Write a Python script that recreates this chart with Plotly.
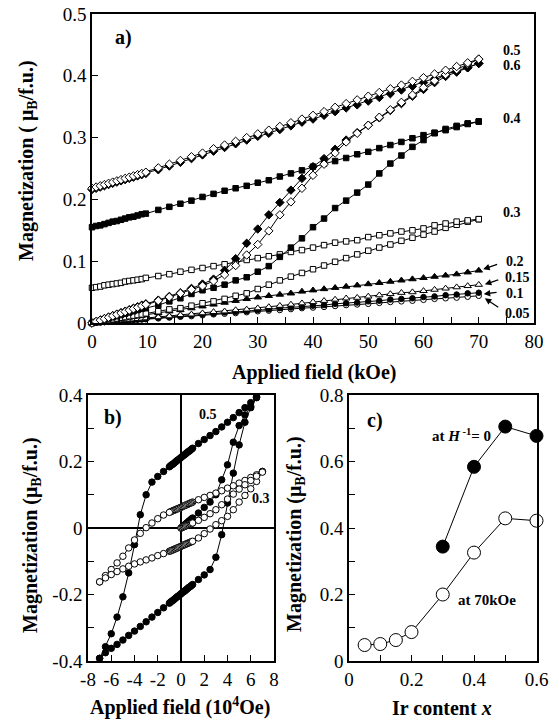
import plotly.graph_objects as go

# ---------------- Panel a data (field in kOe, M in muB/f.u.) ----------------
H_a = [0, 0.75, 1.5, 2.25, 3, 3.75, 4.5, 5.25, 6, 6.75, 7.5, 8.25, 9, 9.75,
       12, 14, 16, 18, 20, 22, 24, 26, 28, 30, 32, 34, 36, 38, 40, 42, 44, 46, 48, 50,
       52, 54, 56, 58, 60, 62, 64, 66, 68, 70]

m05_down = [0.218, 0.220, 0.222, 0.224, 0.226, 0.228, 0.230, 0.232, 0.234, 0.236, 0.238, 0.240, 0.242, 0.244,
            0.251, 0.257, 0.263, 0.269, 0.275, 0.282, 0.288, 0.294, 0.300, 0.306, 0.312, 0.318, 0.324, 0.330,
            0.336, 0.342, 0.349, 0.355, 0.361, 0.367, 0.373, 0.379, 0.385, 0.391, 0.397, 0.403, 0.409, 0.415,
            0.421, 0.427]
m05_up = [0, 0.0023, 0.0046, 0.0069, 0.0092, 0.0115, 0.0138, 0.0161, 0.0184, 0.0207, 0.023, 0.0253, 0.0276, 0.030,
          0.036, 0.042, 0.048, 0.054, 0.060, 0.068, 0.078, 0.093, 0.110, 0.127, 0.149, 0.175, 0.196, 0.218,
          0.239, 0.257, 0.275, 0.293, 0.307, 0.320, 0.333, 0.345, 0.357, 0.369, 0.381, 0.392, 0.402, 0.410,
          0.419, 0.427]
m06_down = [0.216, 0.218, 0.220, 0.222, 0.224, 0.226, 0.228, 0.230, 0.232, 0.234, 0.236, 0.238, 0.240, 0.242,
            0.248, 0.254, 0.260, 0.266, 0.272, 0.278, 0.284, 0.290, 0.296, 0.302, 0.307, 0.313, 0.319, 0.325,
            0.330, 0.336, 0.342, 0.348, 0.353, 0.359, 0.365, 0.371, 0.377, 0.383, 0.389, 0.395, 0.401, 0.407,
            0.413, 0.420]
m06_up = [0, 0.0024, 0.0048, 0.0072, 0.0096, 0.012, 0.0144, 0.0168, 0.0192, 0.0216, 0.024, 0.0264, 0.0288, 0.031,
          0.037, 0.043, 0.049, 0.056, 0.063, 0.071, 0.085, 0.104, 0.129, 0.152, 0.175, 0.195, 0.215, 0.234,
          0.253, 0.266, 0.281, 0.296, 0.308, 0.320, 0.332, 0.344, 0.355, 0.367, 0.378, 0.389, 0.399, 0.406,
          0.413, 0.420]
m04_down = [0.155, 0.157, 0.158, 0.160, 0.162, 0.164, 0.165, 0.167, 0.169, 0.171, 0.172, 0.174, 0.176, 0.177,
            0.183, 0.188, 0.193, 0.198, 0.204, 0.209, 0.214, 0.218, 0.222, 0.227, 0.231, 0.237, 0.242, 0.247,
            0.253, 0.258, 0.262, 0.267, 0.273, 0.277, 0.283, 0.288, 0.293, 0.299, 0.304, 0.308, 0.312, 0.317,
            0.322, 0.326]
m04_up = [0, 0.0019, 0.0038, 0.0056, 0.0075, 0.0094, 0.011, 0.013, 0.015, 0.017, 0.019, 0.021, 0.023, 0.024,
          0.029, 0.035, 0.040, 0.047, 0.053, 0.057, 0.062, 0.069, 0.074, 0.083, 0.092, 0.107, 0.122, 0.137,
          0.155, 0.169, 0.186, 0.198, 0.211, 0.224, 0.242, 0.258, 0.271, 0.285, 0.296, 0.307, 0.314, 0.319,
          0.323, 0.326]
m03_down = [0.057, 0.058, 0.059, 0.061, 0.062, 0.063, 0.064, 0.065, 0.067, 0.068, 0.069, 0.070, 0.071, 0.073,
            0.076, 0.079, 0.083, 0.086, 0.089, 0.092, 0.095, 0.099, 0.102, 0.105, 0.108, 0.111, 0.115, 0.118,
            0.122, 0.126, 0.130, 0.132, 0.134, 0.139, 0.142, 0.145, 0.148, 0.150, 0.153, 0.158, 0.161, 0.164,
            0.166, 0.168]
m03_up = [0, 0.0012, 0.0024, 0.0036, 0.0048, 0.006, 0.0072, 0.0084, 0.0096, 0.011, 0.012, 0.013, 0.014, 0.0156,
          0.019, 0.022, 0.024, 0.028, 0.032, 0.035, 0.039, 0.044, 0.048, 0.055, 0.062, 0.069, 0.075, 0.081,
          0.087, 0.093, 0.099, 0.105, 0.111, 0.117, 0.122, 0.127, 0.133, 0.138, 0.143, 0.148, 0.154, 0.159,
          0.164, 0.168]
m02 = [0, 0.001, 0.002, 0.003, 0.004, 0.005, 0.006, 0.007, 0.008, 0.009, 0.010, 0.011, 0.012, 0.013,
       0.016, 0.019, 0.021, 0.024, 0.027, 0.030, 0.033, 0.036, 0.039, 0.0415, 0.044, 0.046, 0.048, 0.051,
       0.053, 0.055, 0.057, 0.059, 0.061, 0.063, 0.065, 0.067, 0.069, 0.071, 0.073, 0.075, 0.077, 0.079,
       0.082, 0.085]
m015 = [0, 0.0006, 0.0012, 0.0018, 0.0024, 0.003, 0.0036, 0.0042, 0.0048, 0.0054, 0.006, 0.0066, 0.0072, 0.0078,
        0.0096, 0.011, 0.013, 0.014, 0.016, 0.018, 0.019, 0.021, 0.022, 0.024, 0.026, 0.028, 0.030, 0.032,
        0.034, 0.036, 0.038, 0.040, 0.041, 0.043, 0.045, 0.047, 0.049, 0.050, 0.052, 0.054, 0.056, 0.058,
        0.060, 0.062]
m01 = [0, 0.0005, 0.001, 0.0015, 0.002, 0.0026, 0.0031, 0.0036, 0.0041, 0.0046, 0.0052, 0.0057, 0.0062, 0.0067,
       0.0083, 0.0097, 0.011, 0.0125, 0.014, 0.015, 0.017, 0.018, 0.019, 0.021, 0.022, 0.024, 0.025, 0.026,
       0.028, 0.029, 0.031, 0.032, 0.033, 0.035, 0.036, 0.038, 0.039, 0.040, 0.042, 0.043, 0.045, 0.046,
       0.048, 0.049]
m005 = [0, 0.0005, 0.0009, 0.0014, 0.0019, 0.0023, 0.0028, 0.0033, 0.0038, 0.0042, 0.0047, 0.0052, 0.0056, 0.0061,
        0.0075, 0.0088, 0.010, 0.011, 0.0125, 0.014, 0.015, 0.016, 0.0175, 0.019, 0.020, 0.021, 0.0225, 0.024,
        0.025, 0.026, 0.0275, 0.029, 0.030, 0.031, 0.0325, 0.034, 0.035, 0.036, 0.0375, 0.039, 0.040, 0.041,
        0.0425, 0.044]

labels_a = ["0.5", "0.6", "0.4", "0.3", "0.2", "0.15", "0.1", "0.05"]
labels_a_x = [76, 76, 76, 76, 76.5, 77, 76.5, 77]
labels_a_y = [0.441, 0.417, 0.331, 0.178, 0.099, 0.074, 0.048, 0.016]

# ---------------- Panel b data (field in 10^4 Oe) ----------------
H_loop = [7, 6.5, 6, 5.5, 5, 4.5, 4, 3.5, 3, 2.5, 2, 1.5, 1,
          0.9, 0.8, 0.7, 0.6, 0.5, 0.4, 0.3, 0.2, 0.1, 0, -0.1, -0.2, -0.3, -0.4, -0.5, -0.6, -0.7, -0.8, -0.9,
          -1, -1.5, -2, -2.5, -3, -3.5, -4, -4.5, -5, -5.5, -6, -6.5, -7]
H_loop_up = H_loop[::-1]
H_virgin = [0, 0.1, 0.2, 0.3, 0.4, 0.5, 0.6, 0.7, 0.8, 0.9, 1.0, 1.5, 2, 2.5, 3, 3.5, 4, 4.5, 5, 5.5, 6, 6.5, 7]

b05_down = [0.415, 0.395, 0.377, 0.362, 0.347, 0.332, 0.318, 0.304, 0.290, 0.278, 0.266, 0.254, 0.240,
            0.237, 0.234, 0.231, 0.229, 0.226, 0.223, 0.220, 0.218, 0.215, 0.212, 0.209, 0.206, 0.204, 0.201,
            0.198, 0.195, 0.192, 0.190, 0.187,
            0.184, 0.170, 0.155, 0.138, 0.100, 0.040, -0.050, -0.135, -0.207, -0.268, -0.318, -0.357, -0.392]
b05_up = [-0.392, -0.375, -0.362, -0.350, -0.337, -0.323, -0.310, -0.296, -0.282, -0.268, -0.254, -0.240, -0.226,
          -0.223, -0.220, -0.218, -0.215, -0.212, -0.209, -0.206, -0.204, -0.201, -0.198, -0.195, -0.192, -0.190,
          -0.187, -0.184, -0.181, -0.178, -0.176, -0.173,
          -0.170, -0.155, -0.141, -0.125, -0.088, -0.020, 0.075, 0.165, 0.250, 0.318, 0.362, 0.393, 0.415]
b05_virgin = [0, 0.003, 0.006, 0.009, 0.012, 0.015, 0.018, 0.021, 0.024, 0.027, 0.030, 0.045, 0.062, 0.078,
              0.100, 0.145, 0.190, 0.258, 0.308, 0.340, 0.366, 0.392, 0.415]
b03_down = [0.170, 0.160, 0.152, 0.143, 0.135, 0.127, 0.120, 0.112, 0.105, 0.098, 0.092, 0.085, 0.078,
            0.076, 0.075, 0.073, 0.072, 0.070, 0.069, 0.067, 0.066, 0.064, 0.062, 0.061, 0.059, 0.058, 0.056,
            0.055, 0.053, 0.052, 0.050, 0.049,
            0.047, 0.039, 0.028, 0.015, 0.001, -0.016, -0.036, -0.060, -0.085, -0.105, -0.125, -0.143, -0.162]
b03_up = [-0.162, -0.150, -0.140, -0.131, -0.123, -0.115, -0.108, -0.102, -0.096, -0.090, -0.083, -0.077, -0.070,
          -0.069, -0.067, -0.066, -0.064, -0.063, -0.061, -0.060, -0.058, -0.057, -0.055, -0.053, -0.052, -0.050,
          -0.049, -0.047, -0.046, -0.044, -0.043, -0.041,
          -0.040, -0.030, -0.017, -0.003, 0.010, 0.022, 0.035, 0.055, 0.078, 0.098, 0.118, 0.140, 0.170]
b03_virgin = [0, 0.0015, 0.003, 0.0045, 0.006, 0.0075, 0.009, 0.0105, 0.012, 0.0135, 0.015, 0.023, 0.032, 0.043,
              0.055, 0.070, 0.087, 0.102, 0.117, 0.130, 0.143, 0.156, 0.168]

# ---------------- Panel c data ----------------
x_sat = [0.3, 0.4, 0.5, 0.6]
m_sat = [0.344, 0.584, 0.705, 0.677]
x_70 = [0.05, 0.1, 0.15, 0.2, 0.3, 0.4, 0.5, 0.6]
m_70 = [0.048, 0.051, 0.063, 0.087, 0.200, 0.326, 0.429, 0.422]

FONT = "Liberation Serif, Times New Roman, Times, serif"
BLK = "black"
OFF = 8                      # page body margin of the browser
W, Hh = 559 - OFF, 724 - OFF

fig = go.Figure()


def add(x, y, symbol, fill, size, xa, ya, clip=True):
    fig.add_trace(go.Scatter(
        x=x, y=y, mode="lines+markers", xaxis=xa, yaxis=ya, cliponaxis=clip,
        line=dict(color=BLK, width=1),
        marker=dict(symbol=symbol, size=size, color=fill, line=dict(color=BLK, width=1)),
        showlegend=False, hoverinfo="skip"))


# panel a
for m, sym, fill, sz in [(m005, "circle", "white", 5.5), (m01, "circle", BLK, 5.5),
                         (m015, "triangle-up", "white", 6.5), (m02, "triangle-up", BLK, 6.5),
                         (m03_up, "square", "white", 5.5), (m03_down, "square", "white", 5.5),
                         (m04_up, "square", BLK, 5.5), (m04_down, "square", BLK, 5.5),
                         (m06_up, "diamond", BLK, 6.5), (m06_down, "diamond", BLK, 6.5),
                         (m05_up, "diamond", "white", 6.5), (m05_down, "diamond", "white", 6.5)]:
    add(H_a, m, sym, fill, sz, "x", "y", clip=False)

# panel b
add(H_loop, b05_down, "circle", BLK, 6.5, "x2", "y2")
add(H_loop_up, b05_up, "circle", BLK, 6.5, "x2", "y2")
add(H_virgin, b05_virgin, "circle", BLK, 6.5, "x2", "y2")
add(H_loop, b03_down, "circle", "white", 6.5, "x2", "y2")
add(H_loop_up, b03_up, "circle", "white", 6.5, "x2", "y2")
add(H_virgin, b03_virgin, "circle", "white", 6.5, "x2", "y2")

# panel c
add(x_sat, m_sat, "circle", BLK, 13, "x3", "y3", clip=False)
add(x_70, m_70, "circle", "white", 13, "x3", "y3", clip=False)

tickfont = dict(family=FONT, size=19, color=BLK)


def ax(domain, rng, anchor, **kw):
    d = dict(domain=domain, range=rng, anchor=anchor, showline=True, linecolor=BLK, linewidth=1.5,
             mirror=True, ticks="inside", ticklen=6, tickwidth=1, tickcolor=BLK, showgrid=False,
             zeroline=False, tickfont=tickfont, fixedrange=True, automargin=False,
             ticklabeloverflow="allow")
    d.update(kw)
    return d


def px(p):
    return (p - OFF) / W


def py(p):
    return 1 - (p - OFF) / Hh


fig.update_layout(
    width=W, height=Hh, autosize=False, margin=dict(l=0, r=0, t=0, b=0, pad=0),
    paper_bgcolor="white", plot_bgcolor="white", showlegend=False,
    xaxis=ax([px(92), px(534)], [0, 80], "y", tickvals=[0, 10, 20, 30, 40, 50, 60, 70, 80],
             minor=dict(dtick=5, ticks="inside", ticklen=6, tickcolor=BLK)),
    yaxis=ax([py(323), py(14)], [0, 0.5], "x", tickvals=[0, 0.1, 0.2, 0.3, 0.4, 0.5],
             ticktext=["0", "0.1", "0.2", "0.3", "0.4", "0.5"]),
    xaxis2=ax([px(88), px(274)], [-8, 8], "y2", tickvals=[-8, -6, -4, -2, 0, 2, 4, 6, 8],
              ticktext=["-8", "-6", "-4", "-2", "0", "2", "4", "6", "8"],
              zeroline=True, zerolinecolor=BLK, zerolinewidth=1.5),
    yaxis2=ax([py(661), py(395)], [-0.4, 0.4], "x2", tickvals=[-0.4, -0.2, 0, 0.2, 0.4],
              ticktext=["-0.4", "-0.2", "0", "0.2", "0.4"],
              minor=dict(dtick=0.1, ticks="inside", ticklen=6, tickcolor=BLK),
              zeroline=True, zerolinecolor=BLK, zerolinewidth=1.5),
    xaxis3=ax([px(349), px(536.5)], [0, 0.6], "y3", tickvals=[0, 0.2, 0.4, 0.6],
              ticktext=["0", "0.2", "0.4", "0.6"],
              minor=dict(dtick=0.1, ticks="inside", ticklen=6, tickcolor=BLK)),
    yaxis3=ax([py(661), py(395)], [0, 0.8], "x3", tickvals=[0, 0.2, 0.4, 0.6, 0.8],
              ticktext=["0", "0.2", "0.4", "0.6", "0.8"],
              minor=dict(dtick=0.1, ticks="inside", ticklen=6, tickcolor=BLK)),
)

ann = []
lab_font = dict(family=FONT, size=14, color=BLK)
for t, xx, yy in zip(labels_a, labels_a_x, labels_a_y):
    ann.append(dict(text="<b>%s</b>" % t, x=xx, y=yy, xref="x", yref="y", showarrow=False,
                    font=lab_font, xanchor="center", yanchor="middle"))
# arrows panel a (head -> tail)
for hx, hy, tx, ty in [(70.8, 0.087, 73.6, 0.0955), (71.1, 0.0626, 73.8, 0.0707),
                       (70.9, 0.047, 73.5, 0.0497), (71.1, 0.040, 73.8, 0.0238)]:
    ann.append(dict(text="", x=hx, y=hy, ax=tx, ay=ty, xref="x", yref="y", axref="x", ayref="y",
                    showarrow=True, arrowhead=2, arrowsize=1, arrowwidth=1.3, arrowcolor=BLK))


def pann(text, x, y, size, angle=0, xanchor="center"):
    ann.append(dict(text=text, x=px(x), y=py(y), xref="paper", yref="paper", showarrow=False,
                    font=dict(family=FONT, size=size, color=BLK), textangle=angle,
                    xanchor=xanchor, yanchor="middle"))


pann("<b>a)</b>", 123, 37, 20)
pann("<b>b)</b>", 113, 417, 20)
pann("<b>c)</b>", 375, 420, 20)
ann.append(dict(text="<b>0.5</b>", x=2.3, y=0.34, xref="x2", yref="y2", showarrow=False, font=lab_font,
                xanchor="center", yanchor="middle"))
ann.append(dict(text="<b>0.3</b>", x=6.9, y=0.09, xref="x2", yref="y2", showarrow=False, font=lab_font,
                xanchor="center", yanchor="middle"))
pann("<b>at <i>H</i><sup> -1</sup>= 0</b>", 493, 435, 15, xanchor="right")
pann("<b>at 70kOe</b>", 487, 600, 15)

pann("<b>Magnetization ( μ<sub>B</sub>/f.u.)</b>", 27, 161, 20, angle=-90)
pann("<b>Applied field (kOe)</b>", 314, 372, 20)
pann("<b>Magnetization (μ<sub>B</sub>/f.u.)</b>", 31, 535, 20, angle=-90)
pann("<b>Applied field (10<sup>4</sup>Oe)</b>", 180, 706, 20)
pann("<b>Magnetization (μ<sub>B</sub>/f.u.)</b>", 295, 534, 20, angle=-90)
pann("<b>Ir content <i>x</i></b>", 442, 708, 20)

fig.update_layout(annotations=ann)
fig.write_html("out.html")
